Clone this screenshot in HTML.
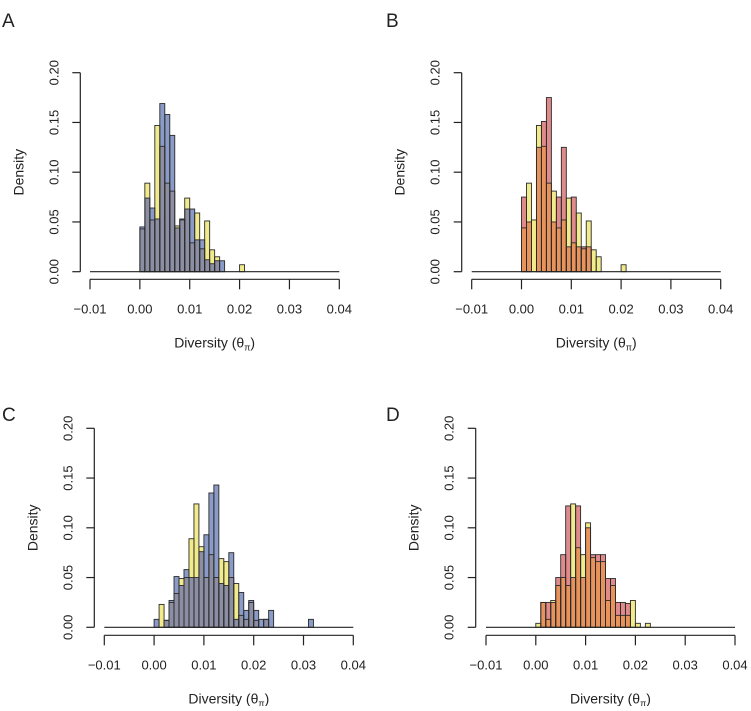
<!DOCTYPE html>
<html><head><meta charset="utf-8"><style>
body{margin:0;background:#fff;}
svg text{font-family:"Liberation Sans",sans-serif;fill:#222;}
</style></head><body>
<svg id="fig" width="751" height="706" viewBox="0 0 751 706"></svg>
<script>
const binsAB = [0,0.001,0.002,0.003,0.004,0.005,0.006,0.007,0.008,0.009,0.010,0.011,0.012,0.013,0.014,0.015,0.016,0.017,0.018,0.019,0.020];
const binsC = [0,0.001,0.002,0.003,0.004,0.005,0.006,0.007,0.008,0.009,0.010,0.011,0.012,0.013,0.014,0.015,0.016,0.017,0.018,0.019,0.020,0.021,0.022,0.023,0.024,0.025,0.026,0.027,0.028,0.029,0.030,0.031];
const binsD = [0,0.001,0.002,0.003,0.004,0.005,0.006,0.007,0.008,0.009,0.010,0.011,0.012,0.013,0.014,0.015,0.016,0.017,0.018,0.019,0.020,0.021,0.022];
const yellowA = [0.043,0.089,0.052,0.147,0.126,0.089,0.081,0.046,0.052,0.074,0.029,0.059,0.023,0.051,0.022,0.015,0,0,0,0,0.007];
const blueA = [0.045,0.074,0.064,0.053,0.169,0.158,0.137,0.044,0.053,0.063,0.063,0.032,0.032,0.012,0.008,0.011,0.011,0,0,0,0];
const yellowB = [0.044,0.089,0.052,0.147,0.126,0.089,0.081,0.044,0.052,0.074,0.029,0.059,0.023,0.051,0.022,0.015,0,0,0,0,0.007];
const redB = [0.075,0.050,0,0.125,0.151,0.175,0.050,0.075,0.125,0.025,0.075,0.025,0.025,0.025,0,0,0,0,0,0,0];
const yellowC = [0,0.023,0.007,0.025,0.034,0.049,0.05,0.089,0.124,0.081,0.05,0.073,0.05,0.069,0.066,0.05,0.044,0.012,0.008,0.025,0.007,0,0.008,0,0,0,0,0,0,0,0,0];
const blueC = [0.008,0,0.007,0.027,0.051,0.042,0.058,0.05,0.05,0.076,0.093,0.135,0.143,0.044,0.042,0.075,0.008,0.035,0.017,0.027,0.017,0.008,0.008,0.017,0,0,0,0,0,0,0,0.008];
const yellowD = [0.004,0.025,0.008,0.027,0.042,0.05,0.042,0.124,0.08,0.073,0.105,0.07,0.066,0.066,0.027,0.042,0.012,0.012,0.012,0.027,0.004,0,0.004];
const redD = [0,0.025,0.025,0.025,0.050,0.073,0.122,0.05,0.122,0.05,0.1,0.073,0.073,0.073,0.049,0.049,0.025,0.025,0.024,0,0,0,0];
const xTicks = [-0.01,0,0.01,0.02,0.03,0.04];
const xTickLabels = ["\u22120.01","0.00","0.01","0.02","0.03","0.04"];
const yTicks = [0,0.05,0.10,0.15,0.20];
const yTickLabels = ["0.00","0.05","0.10","0.15","0.20"];
const binWidth = 0.001;

const NS="http://www.w3.org/2000/svg";
const svg=document.getElementById('fig');
function mk(tag,attrs,parent){const e=document.createElementNS(NS,tag);for(const k in attrs)e.setAttribute(k,attrs[k]);(parent||svg).appendChild(e);return e;}

function panel(p){
  const g=mk('g',{});
  
  
  const X=v=>p.xm+(v+0.01)/0.05*(p.xM-p.xm);
  const Y=v=>p.y0-v/0.2*(p.y0-p.yT);
  for(let i=0;i<p.bins.length;i++){
    const a=p.s1[i]||0,b=p.s2[i]||0,lo=Math.min(a,b);
    const x1=X(p.bins[i]),x2=X(p.bins[i]+binWidth);
    if(lo>0){const r=mk('rect',{x:x1,y:Y(lo),width:x2-x1,height:Y(0)-Y(lo),fill:p.cOver},g);
      }
    if(a>lo){const r=mk('rect',{x:x1,y:Y(a),width:x2-x1,height:Y(lo)-Y(a),fill:p.c1},g);
      }
    if(b>lo){const r=mk('rect',{x:x1,y:Y(b),width:x2-x1,height:Y(lo)-Y(b),fill:p.c2},g);
      }
  }
  [p.s1,p.s2].forEach(s=>{
    for(let i=0;i<p.bins.length;i++){const v=s[i]||0;if(v<=0)continue;
      const x1=X(p.bins[i]),x2=X(p.bins[i]+binWidth);
      const r=mk('rect',{x:x1,y:Y(v),width:x2-x1,height:Y(0)-Y(v),fill:'none',stroke:'#2a2a2a','stroke-width':0.9},g);
      }
  });
  const zl=mk('line',{x1:X(-0.01),x2:X(0.04),y1:Y(0),y2:Y(0),stroke:'#222','stroke-width':1.2},g);
  
  const ya=mk('line',{x1:p.ya,x2:p.ya,y1:Y(0),y2:Y(0.2),stroke:'#222','stroke-width':1.2},g);
  
  yTicks.forEach((t,i)=>{
    mk('line',{x1:p.ya-8,x2:p.ya,y1:Y(t),y2:Y(t),stroke:'#222','stroke-width':1.2},g);
    const tx=mk('text',{x:p.ya-22,y:Y(t),'font-size':13,'text-anchor':'middle',transform:`rotate(-90 ${p.ya-22} ${Y(t)})`},g);
    tx.textContent=yTickLabels[i];
    
  });
  const yl=mk('text',{x:p.ya-57,y:(Y(0)+Y(0.2))/2,'font-size':14,'text-anchor':'middle',transform:`rotate(-90 ${p.ya-57} ${(Y(0)+Y(0.2))/2})`},g);
  yl.textContent='Density';
  
  const xa=mk('line',{x1:X(-0.01),x2:X(0.04),y1:p.xa,y2:p.xa,stroke:'#222','stroke-width':1.2},g);
  
  xTicks.forEach((t,i)=>{
    mk('line',{x1:X(t),x2:X(t),y1:p.xa,y2:p.xa+10,stroke:'#222','stroke-width':1.2},g);
    const tx=mk('text',{x:X(t),y:p.xa+34,'font-size':13,'text-anchor':'middle'},g);
    tx.textContent=xTickLabels[i];
    
  });
  const xl=mk('text',{x:(X(-0.01)+X(0.04))/2,y:p.xa+68,'font-size':14,'text-anchor':'middle'},g);
  xl.innerHTML='Diversity (\u03B8<tspan font-size="9" dy="3">\u03C0</tspan><tspan dy="-3">)</tspan>';
  
  const L=mk('text',{x:p.lx,y:p.ly,'font-size':19},g);
  L.textContent=p.letter;
  
}
const YEL='#f2eb8b', BLU='#8a9bc8', GRY='#8c8fa3', RED='#e08a8c', ORG='#e9935c';
panel({letter:'A',lx:2,ly:27,xm:90,xM:339.3,y0:271.7,yT:72.7,ya:80.3,xa:279.3,bins:binsAB,s1:yellowA,s2:blueA,n1:'yellow',n2:'blue',c1:YEL,c2:BLU,cOver:GRY});
panel({letter:'B',lx:386,ly:27,xm:471.7,xM:720.7,y0:271.7,yT:72.7,ya:461.7,xa:279.3,bins:binsAB,s1:yellowB,s2:redB,n1:'yellow',n2:'red',c1:YEL,c2:RED,cOver:ORG});
panel({letter:'C',lx:2,ly:421,xm:104.3,xM:353.3,y0:627.3,yT:428.3,ya:94.3,xa:635.3,bins:binsC,s1:yellowC,s2:blueC,n1:'yellow',n2:'blue',c1:YEL,c2:BLU,cOver:GRY});
panel({letter:'D',lx:386,ly:421,xm:486,xM:735,y0:627.3,yT:428.3,ya:475.7,xa:635.3,bins:binsD,s1:yellowD,s2:redD,n1:'yellow',n2:'red',c1:YEL,c2:RED,cOver:ORG});
</script>
</body></html>
